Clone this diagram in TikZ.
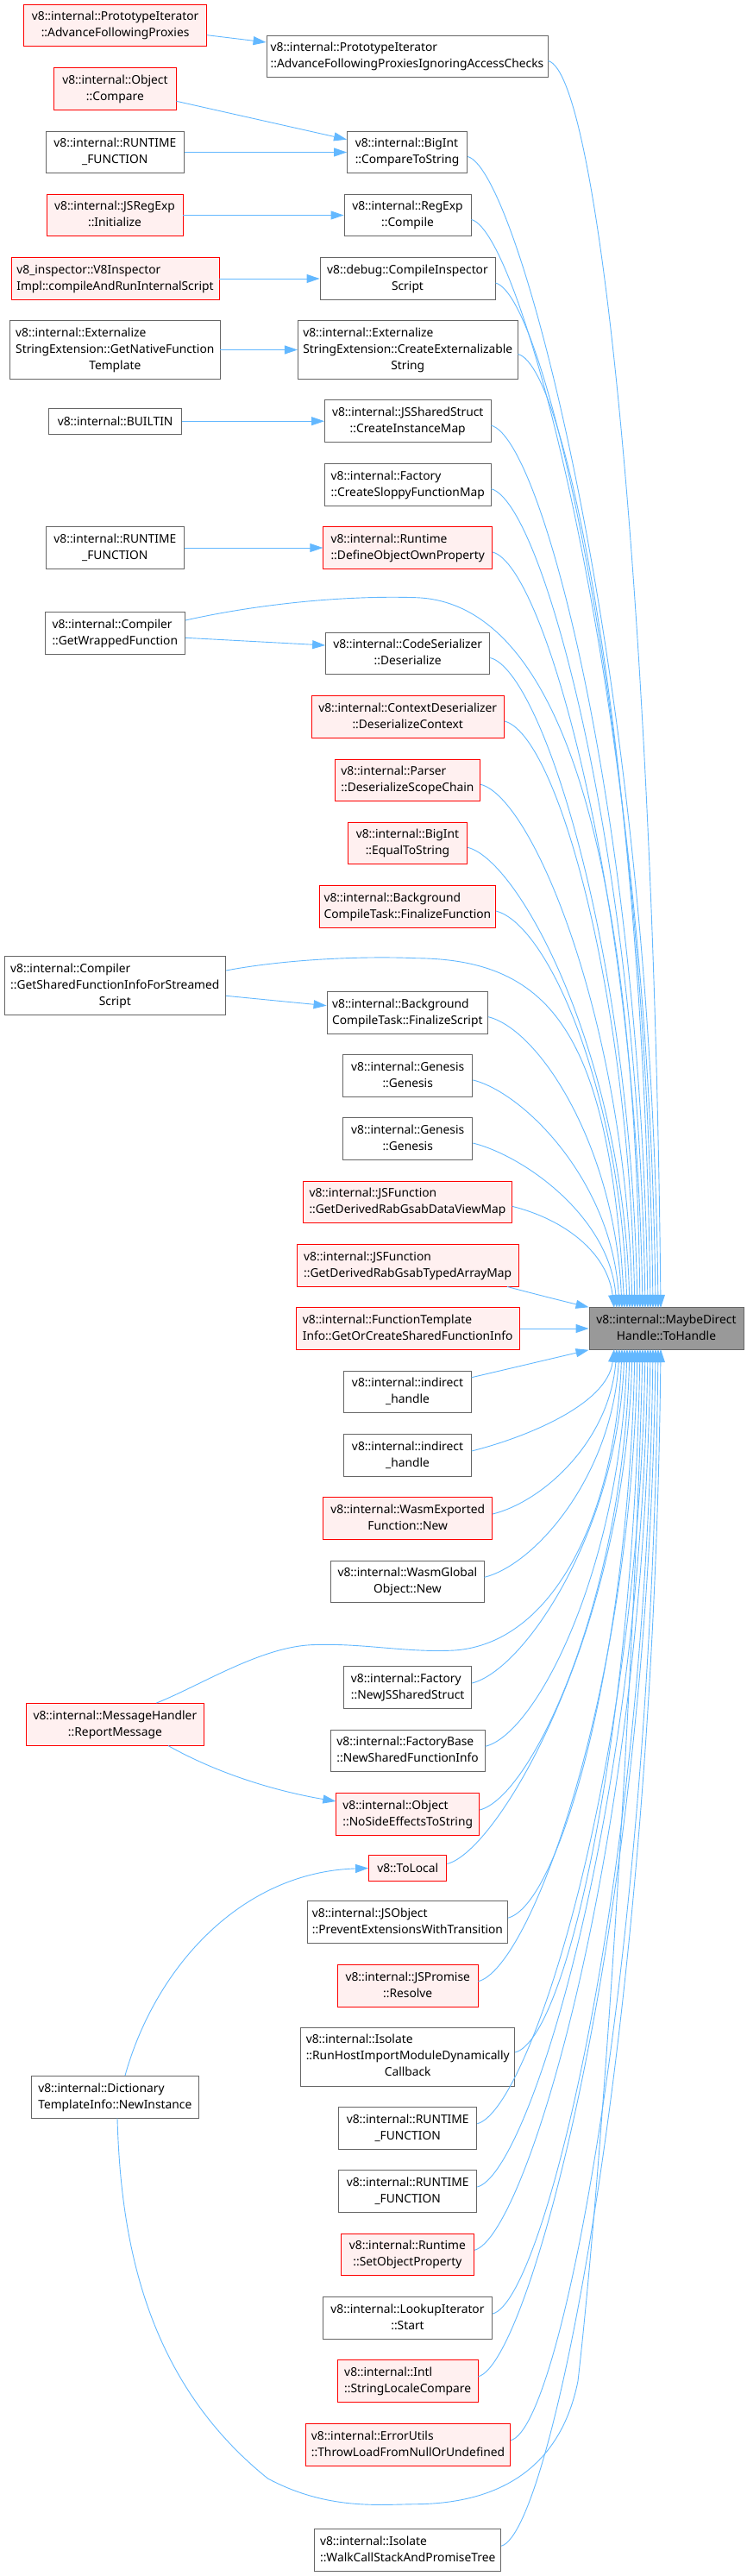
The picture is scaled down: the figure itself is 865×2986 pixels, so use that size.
\documentclass[tikz,border=0pt]{standalone}
\usepackage{fontspec}
\setmainfont{Noto Sans}
\usetikzlibrary{arrows.meta,calc}
\definecolor{edgeblue}{HTML}{63B8FF}
\definecolor{redfill}{HTML}{FFF0F0}
\definecolor{redline}{HTML}{FF0000}
\definecolor{grayline}{HTML}{666666}
\definecolor{tgtfill}{HTML}{999999}
\newcommand{\lB}[2]{\begin{tabular}{@{}l@{}}#1\\\multicolumn{1}{@{}c@{}}{#2}\end{tabular}}
\newcommand{\lC}[3]{\begin{tabular}{@{}l@{}}#1\\#2\\\multicolumn{1}{@{}c@{}}{#3}\end{tabular}}
\newcommand{\eup}[3]{\draw[edge] (#1.east |- 0,#2) .. controls +(60,15) and (#3-8,{#2+0.45*(1516-#2)}) .. (#3,1516);}
\newcommand{\edown}[3]{\draw[edge] (#1.east |- 0,#2) .. controls +(60,-15) and (#3-8,{#2-0.45*(#2-1564)}) .. (#3,1564);}
\begin{document}
\begin{tikzpicture}[x=1pt,y=-1pt,
  font=\fontsize{13.8}{19}\selectfont,
  box/.style={rectangle, draw=grayline, fill=white, line width=0.9pt, inner sep=0pt, minimum height=48.6pt},
  redbox/.style={box, draw=redline, fill=redfill},
  tgtbox/.style={box, fill=tgtfill},
  edge/.style={draw=edgeblue, line width=0.9pt, -{Triangle[length=15pt,width=10pt]}}]
\useasboundingbox (0,0) rectangle (865,2986);

% left column
\node[redbox, minimum width=211.8pt] (n1) at (133.6,29.5) {\lB{v8::internal::PrototypeIterator}{::AdvanceFollowingProxies}};
\node[redbox, minimum width=141.3pt] (n3) at (133.4,103) {\lB{v8::internal::Object}{::Compare}};
\node[box, minimum width=160.5pt] (n4) at (133.3,176.5) {\lB{v8::internal::RUNTIME}{\_FUNCTION}};
\node[redbox, minimum width=158pt] (n6) at (133,249.5) {\lB{v8::internal::JSRegExp}{::Initialize}};
\node[redbox, minimum width=241pt] (n8) at (133.5,323) {\lB{v8\_inspector::V8Inspector}{Impl::compileAndRunInternalScript}};
\node[box, minimum width=243.4pt, minimum height=67.6pt] (n10) at (133.3,405.5) {\lC{v8::internal::Externalize}{StringExtension::GetNativeFunction}{Template}};
\node[box, minimum width=154pt, minimum height=30pt] (n12) at (133.6,488.2) {v8::internal::BUILTIN};
\node[box, minimum width=160.5pt] (n15) at (133.3,635) {\lB{v8::internal::RUNTIME}{\_FUNCTION}};
\node[box, minimum width=162.6pt] (n17) at (133.3,733.7) {\lB{v8::internal::Compiler}{::GetWrappedFunction}};
\node[box, minimum width=256.7pt, minimum height=68pt] (n23) at (133.3,1142.7) {\lC{v8::internal::Compiler}{::GetSharedFunctionInfoForStreamed}{Script}};
\node[redbox, minimum width=206.8pt] (n34) at (133.4,1998.8) {\lB{v8::internal::MessageHandler}{::ReportMessage}};
\node[box, minimum width=193.4pt] (n42) at (133.3,2430.7) {\lB{v8::internal::Dictionary}{TemplateInfo::NewInstance}};

% middle column
\node[box, minimum width=326pt] (n2) at (472,65.5) {\lB{v8::internal::PrototypeIterator}{::AdvanceFollowingProxiesIgnoringAccessChecks}};
\node[box, minimum width=139.2pt] (n5) at (472.1,176.5) {\lB{v8::internal::BigInt}{::CompareToString}};
\node[box, minimum width=147pt] (n7) at (472.5,249.5) {\lB{v8::internal::RegExp}{::Compile}};
\node[box, minimum width=203pt] (n9) at (472.5,323) {\lB{v8::debug::CompileInspector}{Script}};
\node[box, minimum width=254.6pt, minimum height=67.6pt] (n11) at (472.7,405.5) {\lC{v8::internal::Externalize}{StringExtension::CreateExternalizable}{String}};
\node[box, minimum width=192.5pt] (n13) at (472.7,488.2) {\lB{v8::internal::JSSharedStruct}{::CreateInstanceMap}};
\node[box, minimum width=192.5pt] (n14) at (472.7,561.7) {\lB{v8::internal::Factory}{::CreateSloppyFunctionMap}};
\node[redbox, minimum width=195.8pt] (n16) at (472.7,635) {\lB{v8::internal::Runtime}{::DefineObjectOwnProperty}};
\node[box, minimum width=190.2pt] (n18) at (472.7,757.5) {\lB{v8::internal::CodeSerializer}{::Deserialize}};
\node[redbox, minimum width=223.4pt] (n19) at (472.7,831) {\lB{v8::internal::ContextDeserializer}{::DeserializeContext}};
\node[redbox, minimum width=168.7pt] (n20) at (472.4,904.3) {\lB{v8::internal::Parser}{::DeserializeScopeChain}};
\node[redbox, minimum width=138.7pt] (n21) at (472.4,977.3) {\lB{v8::internal::BigInt}{::EqualToString}};
\node[redbox, minimum width=204pt] (n22) at (472.4,1051) {\lB{v8::internal::Background}{CompileTask::FinalizeFunction}};
\node[box, minimum width=186.6pt] (n24) at (472.3,1173.7) {\lB{v8::internal::Background}{CompileTask::FinalizeScript}};
\node[box, minimum width=150.2pt] (n25) at (472.7,1246.9) {\lB{v8::internal::Genesis}{::Genesis}};
\node[box, minimum width=150.2pt] (n26) at (472.7,1320) {\lB{v8::internal::Genesis}{::Genesis}};
\node[redbox, minimum width=241.8pt] (n27) at (472.4,1393.3) {\lB{v8::internal::JSFunction}{::GetDerivedRabGsabDataViewMap}};
\node[redbox, minimum width=256.7pt] (n28) at (472.7,1466.7) {\lB{v8::internal::JSFunction}{::GetDerivedRabGsabTypedArrayMap}};
\node[redbox, minimum width=259pt] (n29) at (472.7,1540) {\lB{v8::internal::FunctionTemplate}{Info::GetOrCreateSharedFunctionInfo}};
\node[box, minimum width=147.5pt] (n30) at (472.5,1613.3) {\lB{v8::internal::indirect}{\_handle}};
\node[box, minimum width=147.5pt] (n31) at (472.5,1687) {\lB{v8::internal::indirect}{\_handle}};
\node[redbox, minimum width=195.8pt] (n32) at (472.7,1760) {\lB{v8::internal::WasmExported}{Function::New}};
\node[box, minimum width=177.3pt] (n33) at (472.4,1833.3) {\lB{v8::internal::WasmGlobal}{Object::New}};
\node[box, minimum width=148pt] (n35) at (472.7,1956) {\lB{v8::internal::Factory}{::NewJSSharedStruct}};
\node[box, minimum width=179.2pt] (n36) at (472.6,2029.3) {\lB{v8::internal::FactoryBase}{::NewSharedFunctionInfo}};
\node[redbox, minimum width=165.8pt] (n37) at (472.7,2103) {\lB{v8::internal::Object}{::NoSideEffectsToString}};
\node[redbox, minimum width=90.4pt, minimum height=29.6pt] (n38) at (472.7,2165.5) {v8::ToLocal};
\node[box, minimum width=231.8pt] (n39) at (472.4,2228.2) {\lB{v8::internal::JSObject}{::PreventExtensionsWithTransition}};
\node[redbox, minimum width=162.5pt] (n40) at (472.7,2301.7) {\lB{v8::internal::JSPromise}{::Resolve}};
\node[box, minimum width=247.8pt, minimum height=68pt] (n41) at (472.7,2384) {\lC{v8::internal::Isolate}{::RunHostImportModuleDynamically}{Callback}};
\node[box, minimum width=160.2pt] (n43) at (472.7,2466.7) {\lB{v8::internal::RUNTIME}{\_FUNCTION}};
\node[box, minimum width=160.2pt] (n44) at (472.7,2540) {\lB{v8::internal::RUNTIME}{\_FUNCTION}};
\node[redbox, minimum width=154.2pt] (n45) at (472.4,2613.3) {\lB{v8::internal::Runtime}{::SetObjectProperty}};
\node[box, minimum width=196.3pt] (n46) at (472.5,2687) {\lB{v8::internal::LookupIterator}{::Start}};
\node[redbox, minimum width=162.5pt] (n47) at (472.7,2759.8) {\lB{v8::internal::Intl}{::StringLocaleCompare}};
\node[redbox, minimum width=237.3pt] (n48) at (473,2833.7) {\lB{v8::internal::ErrorUtils}{::ThrowLoadFromNullOrUndefined}};
\node[box, minimum width=215.7pt] (n49) at (472.7,2956.2) {\lB{v8::internal::Isolate}{::WalkCallStackAndPromiseTree}};

% target
\node[tgtbox, minimum width=179pt] (tgt) at (772.5,1540) {\lB{v8::internal::MaybeDirect}{Handle::ToHandle}};

% left-to-middle edges
\draw[edge] (n1.east |- 0,40.7) -- (n2.west |- 0,49);
\draw[edge] (n3.east |- 0,117.3) -- (n5.west |- 0,161.7);
\draw[edge] (n4.east) -- (n5.west);
\draw[edge] (n6.east) -- (n7.west);
\draw[edge] (n8.east) -- (n9.west);
\draw[edge] (n10.east) -- (n11.west);
\draw[edge] (n12.east) -- (n13.west);
\draw[edge] (n15.east) -- (n16.west);
\draw[edge] (n17.east |- 0,739.3) -- (n18.west |- 0,748);
\draw[edge] (n23.east |- 0,1154.3) -- (n24.west |- 0,1165.7);
\draw[edge] (n34.south -| 195,0) .. controls (260,2060) and (330,2078) .. (n37.west |- 0,2088);
\draw[edge] (n42.north -| 145,0) .. controls (180,2280) and (280,2170) .. (n38.west);

% edges to target from above
\eup{n2}{70.5}{766}
\eup{n5}{181.5}{763}
\eup{n7}{254.5}{760}
\eup{n9}{328}{757}
\eup{n11}{410.5}{754}
\eup{n13}{493.2}{751}
\eup{n14}{566.7}{748}
\eup{n16}{640}{745}
\draw[edge] (n17.east |- 0,719) .. controls (300,700) and (400,690) .. (482,692.7) .. controls (620,697) and (734,900) .. (742,1516);
\eup{n18}{762.5}{739}
\eup{n19}{836}{736}
\eup{n20}{909.3}{733}
\eup{n21}{982.3}{730}
\eup{n22}{1056}{727}
\draw[edge] (n23.east |- 0,1125) .. controls (330,1112) and (420,1108) .. (482,1110.7) .. controls (640,1112) and (706,1200) .. (724,1516);
\eup{n24}{1178.7}{721}
\eup{n25}{1251.9}{718}
\eup{n26}{1325}{715}
\eup{n27}{1398.3}{712}
\draw[edge] (n28.south -| 588,0) .. controls (620,1500) and (660,1510) .. (tgt.north west);
\draw[edge] (n29.east) -- (tgt.west);

% edges to target from below
\draw[edge] (n30.east |- 0,1596.7) -- (tgt.south west);
\edown{n31}{1682}{712}
\edown{n32}{1755}{715}
\edown{n33}{1828.3}{718}
\draw[edge] (n34.north -| 181.3,0) .. controls (230,1955) and (300,1910) .. (360,1906.7) .. controls (420,1904) and (470,1916) .. (526.8,1913) .. controls (640,1905) and (713,1760) .. (721,1564);
\edown{n35}{1951}{724}
\edown{n36}{2024.3}{727}
\edown{n37}{2098}{730}
\edown{n38}{2160.5}{733}
\edown{n39}{2223.2}{736}
\edown{n40}{2296.7}{739}
\edown{n41}{2379}{742}
\draw[edge] (n42.south -| 136,0) .. controls (140,2600) and (170,2760) .. (310.5,2873) .. controls (380,2910) and (440,2903) .. (482,2902.7) .. controls (580,2902) and (650,2860) .. (670,2760) .. controls (700,2500) and (737,1900) .. (745,1564);
\edown{n43}{2461.7}{748}
\edown{n44}{2535}{751}
\edown{n45}{2608.3}{754}
\edown{n46}{2682}{757}
\edown{n47}{2754.8}{760}
\edown{n48}{2828.7}{763}
\edown{n49}{2951.2}{766}
\end{tikzpicture}
\end{document}
